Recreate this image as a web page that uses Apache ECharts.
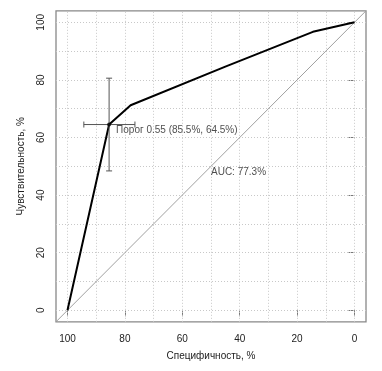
<!DOCTYPE html>
<html>
<head>
<meta charset="utf-8">
<script src="https://cdn.jsdelivr.net/npm/echarts@6/dist/echarts.min.js"></script>
<style>
html,body{margin:0;padding:0;background:#fff;}
#chart{width:382px;height:371px;}
</style>
</head>
<body>
<div id="chart"></div>
<script>
// ROC curve data (specificity %, sensitivity %)
const specificity = [100, 85.5, 78, 45, 14.5, 0];
const sensitivity = [0, 64.5, 71.2, 84.6, 96.7, 100];
// best threshold and its confidence intervals
const thresholdPoint = [85.5, 64.5];
const specCI = [94.3, 76.5];
const sensCI = [48.4, 80.6];
const thresholdLabel = 'Порог 0.55 (85.5%, 64.5%)';
// AUC label anchor
const aucPoint = [50, 50];
const aucLabel = 'AUC: 77.3%';
// chance diagonal
const chanceSpec = [104, -4];
const chanceSens = [-4, 104];
// ticks and grid
const tickValues = [0, 20, 40, 60, 80, 100];
const gridValues = [0, 10, 20, 30, 40, 50, 60, 70, 80, 90, 100];
const xTitle = 'Специфичность, %';
const yTitle = 'Чувствительность, %';

const FONT = 'Liberation Sans, Arial, Helvetica, sans-serif';
const chart = echarts.init(document.getElementById('chart'), null, {renderer: 'canvas'});

const rocData = specificity.map((s, i) => [s, sensitivity[i]]);
const chanceData = chanceSpec.map((s, i) => [s, chanceSens[i]]);

const gridLines = gridValues.map(v => ({xAxis: v})).concat(gridValues.map(v => ({yAxis: v})));

const option = {
  animation: false,
  backgroundColor: '#fff',
  textStyle: {fontFamily: FONT},
  grid: {
    left: 56, right: 16, top: 10.8, bottom: 49.2,
    outerBoundsMode: 'none',
    show: true, borderColor: '#888', borderWidth: 1.3, backgroundColor: 'transparent'
  },
  xAxis: {
    type: 'value', inverse: true, min: -4, max: 104,
    name: xTitle, nameLocation: 'middle', nameGap: 29,
    nameTextStyle: {fontSize: 10, color: '#222', fontFamily: FONT},
    axisLine: {show: false},
    axisTick: {show: true, customValues: tickValues, length: 6, inside: false, lineStyle: {color: '#777', width: 1}},
    axisLabel: {customValues: tickValues, fontSize: 10, color: '#222', margin: 12, fontFamily: FONT},
    splitLine: {show: false}
  },
  yAxis: {
    type: 'value', min: -4, max: 104,
    name: yTitle, nameLocation: 'middle', nameGap: 30, nameRotate: 90,
    nameTextStyle: {fontSize: 10, color: '#222', fontFamily: FONT},
    axisLine: {show: false},
    axisTick: {show: true, customValues: tickValues, length: 6, inside: false, lineStyle: {color: '#777', width: 1}},
    axisLabel: {customValues: tickValues, fontSize: 10, color: '#222', margin: 10, rotate: 90, fontFamily: FONT},
    splitLine: {show: false}
  },
  series: [
    {
      type: 'line', data: [], z: 1, silent: true,
      markLine: {
        z: 1, silent: true, symbol: ['none', 'none'], label: {show: false},
        lineStyle: {type: [1, 2], color: '#c8c8c8', width: 1},
        emphasis: {disabled: true},
        data: gridLines
      }
    },
    {
      type: 'line', data: chanceData, z: 3, symbol: 'none', silent: true,
      lineStyle: {color: '#a0a0a0', width: 1}
    },
    {
      type: 'line', data: rocData, z: 4, symbol: 'none', silent: true,
      lineStyle: {color: '#000', width: 2}
    },
    {
      type: 'custom', z: 5, silent: true,
      data: [[thresholdPoint[0], thresholdPoint[1], specCI[0], specCI[1], sensCI[0], sensCI[1]]],
      encode: {x: 0, y: 1},
      renderItem: function (params, api) {
        const x = api.value(0), y = api.value(1);
        const l = api.coord([api.value(2), y]);
        const r = api.coord([api.value(3), y]);
        const b = api.coord([x, api.value(4)]);
        const t = api.coord([x, api.value(5)]);
        const cap = 3;
        const st = {stroke: '#555', lineWidth: 1};
        const ln = (x1, y1, x2, y2) => ({type: 'line', shape: {x1, y1, x2, y2}, style: st});
        return {
          type: 'group',
          children: [
            ln(l[0], l[1], r[0], r[1]),
            ln(l[0], l[1] - cap, l[0], l[1] + cap),
            ln(r[0], r[1] - cap, r[0], r[1] + cap),
            ln(b[0], b[1], t[0], t[1]),
            ln(b[0] - cap, b[1], b[0] + cap, b[1]),
            ln(t[0] - cap, t[1], t[0] + cap, t[1])
          ]
        };
      }
    },
    {
      type: 'scatter', z: 6, silent: true,
      data: [thresholdPoint], symbol: 'circle', symbolSize: 4,
      itemStyle: {color: '#000'},
      label: {
        show: true, formatter: thresholdLabel, position: 'right', distance: 5,
        offset: [0, 6], fontSize: 10, color: '#222', fontFamily: FONT
      }
    },
    {
      type: 'scatter', z: 6, silent: true,
      data: [aucPoint], symbolSize: 0,
      label: {
        show: true, formatter: aucLabel, position: [0, 0], align: 'left', verticalAlign: 'top',
        fontSize: 10, color: '#222', fontFamily: FONT, padding: [1, 0, 0, 0]
      }
    }
  ]
};
chart.setOption(option);
</script>
</body>
</html>
